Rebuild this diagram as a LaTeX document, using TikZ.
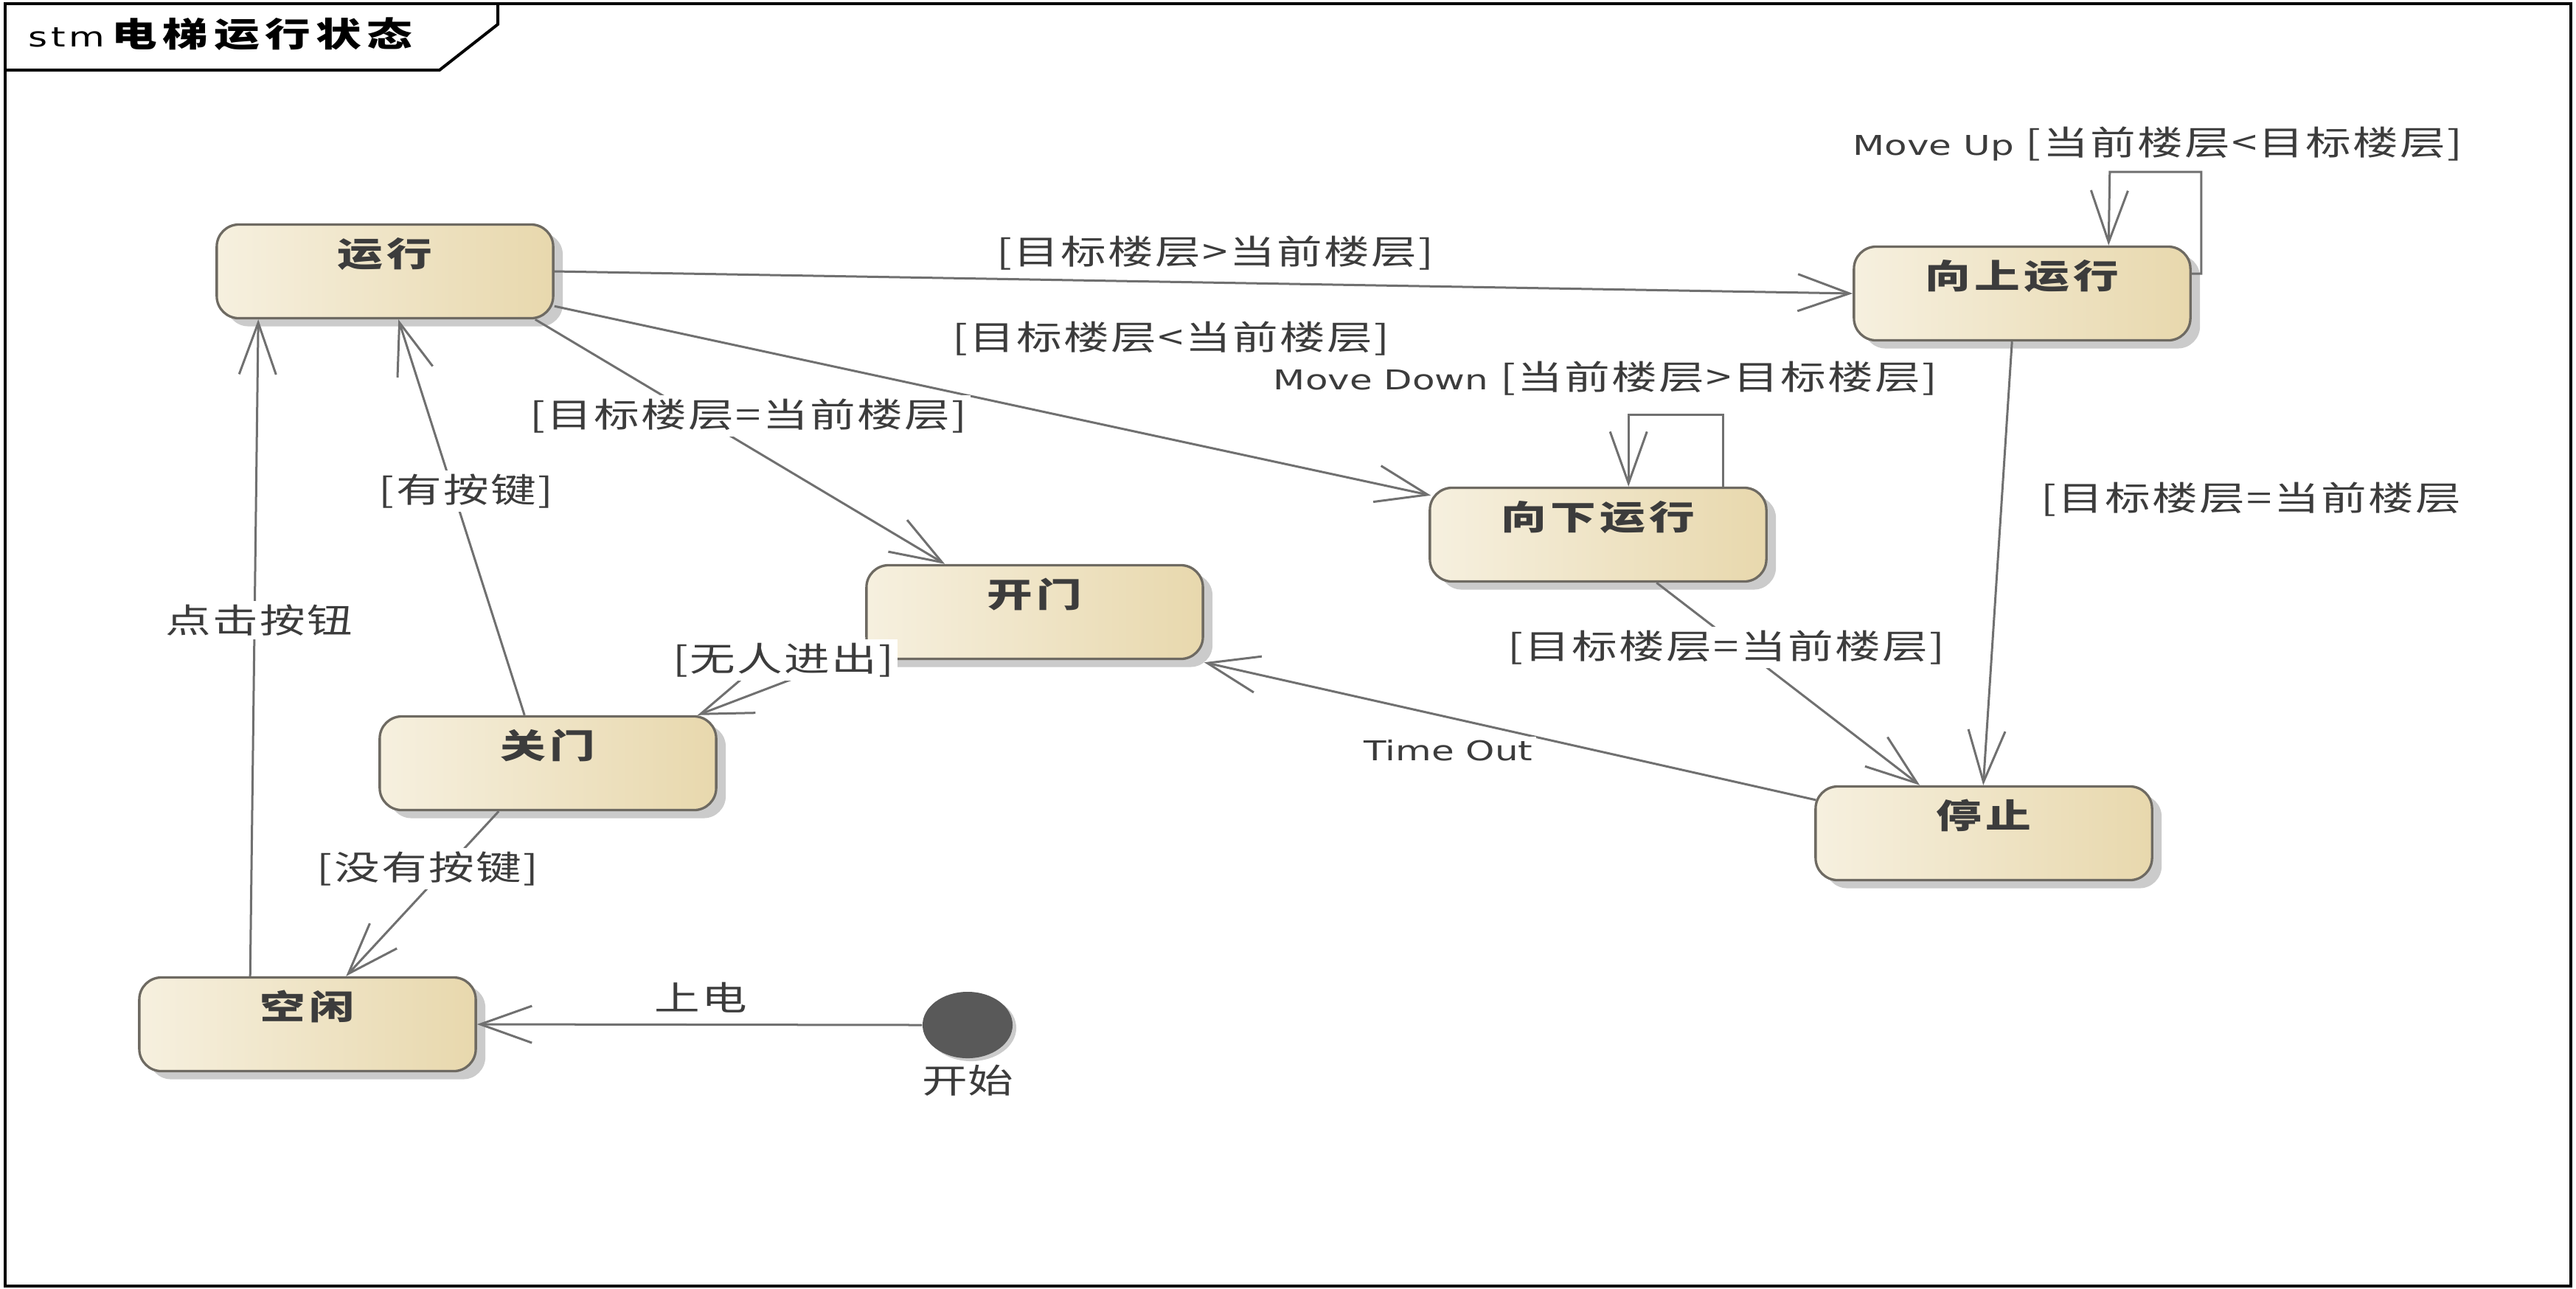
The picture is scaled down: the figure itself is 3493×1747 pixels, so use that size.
\documentclass[tikz,border=0pt]{standalone}
\usepackage{fontspec}
\usepackage{tikz}
\usetikzlibrary{arrows.meta,calc,shadows,shapes.geometric,positioning}
\setmainfont{Noto Sans CJK SC}[FakeStretch=1.35]
\newfontfamily\enfont{DejaVu Sans}[FakeStretch=1.35,Scale=0.81]
\newcommand{\entxt}[1]{{\enfont #1}}
\definecolor{stateL}{HTML}{F6F0DF}
\definecolor{stateR}{HTML}{E8D8AD}
\definecolor{stateline}{HTML}{6E6A62}
\definecolor{edge}{HTML}{707070}
\definecolor{txt}{HTML}{3C3C3C}
\definecolor{shade}{HTML}{CBCBCB}
\definecolor{startfill}{HTML}{595959}

\tikzset{
  state/.style={rectangle, rounded corners=0.3cm, draw=stateline, line width=0.033cm,
    left color=stateL, right color=stateR, minimum width=4.56cm, inner sep=0pt,
    text height=0.57cm, text depth=0.70cm, text=txt,
    font=\bfseries\addfontfeature{LetterSpace=12},
    drop shadow={shadow xshift=0.13cm, shadow yshift=-0.11cm, fill=shade, opacity=1}},
  initial/.style={ellipse, fill=startfill, minimum width=1.22cm, minimum height=0.9cm, inner sep=0pt,
    drop shadow={shadow xshift=0.05cm, shadow yshift=-0.04cm, fill=shade, opacity=1}},
  trans/.style={draw=edge, line width=0.03cm, -{Straight Barb[length=0.7cm, width=0.5cm]}},
  lbl/.style={fill=white, inner sep=0.05cm, text=txt, font=\addfontfeature{LetterSpace=5}},
}

\begin{document}
\fontsize{13pt}{16pt}\selectfont
\begin{tikzpicture}[x=0.01cm,y=-0.01cm]
\useasboundingbox (0,0) rectangle (3493,1747);
\draw[line width=0.04cm] (7,5) rectangle (3486,1744);
\draw[line width=0.04cm] (7,95) -- (596,95) -- (675,33) -- (675,5);
\node[anchor=west, inner sep=0pt] (titel) at (38,46) {{\enfont\addfontfeature{LetterSpace=12}stm}\hspace{0.1cm}{\bfseries\addfontfeature{LetterSpace=16}电梯运行状态}};

\node[state] (yunxing) at (522,368) {运行};
\node[state] (shang) at (2742,398) {向上运行};
\node[state] (xia) at (2167,725) {向下运行};
\node[state] (kaimen) at (1403,830) {开门};
\node[state] (guanmen) at (743,1035) {关门};
\node[state] (tingzhi) at (2690,1130) {停止};
\node[state] (kongxian) at (417,1389) {空闲};
\node[initial, label={[text=txt, inner sep=0pt, label distance=0.08cm]below:开始}] (chushi) at (1312,1390) {};

\draw[trans] (yunxing.east) -- (shang.west) node[lbl] at (1648,343) {[目标楼层>当前楼层]};
\draw[trans] ($(yunxing.south east)+(0,-18)$) -- ($(xia.north west)+(3,12)$) node[lbl] at (1588,459) {[目标楼层<当前楼层]};
\draw[trans] ($(yunxing.south east)+(-26,0)$) -- ($(kaimen.north west)+(108,0)$) node[lbl] at (1015,564) {[目标楼层=当前楼层]};
\draw[trans] ($(kongxian.north west)+(152,0)$) -- ($(yunxing.south west)+(58,0)$) node[lbl] at (351,841) {点击按钮};
\draw[trans] ($(guanmen.north west)+(198,0)$) -- ($(yunxing.south west)+(248,0)$) node[lbl] at (632,666) {[有按键]};
\draw[trans] ($(kaimen.south west)+(0,-12)$) -- ($(guanmen.north east)+(-27,0)$) node[lbl] at (1062,895) {[无人进出]};
\draw[trans] ($(guanmen.south west)+(163,0)$) -- ($(kongxian.north west)+(282,0)$) node[lbl] at (580,1178) {[没有按键]};
\draw[trans] (chushi.west) -- (kongxian.east) node[lbl] at (950,1353) {上电};
\draw[trans] ($(shang.east)+(0,-27)$) -- ++(13,0) |- ++(-124,-138) -- ($(shang.north west)+(347,0)$) node[lbl] at (2926,195) {\entxt{Move Up} [当前楼层<目标楼层]};
\draw[trans] ($(xia.north west)+(399,0)$) -- ++(0,-97) -| ($(xia.north west)+(271,0)$) node[lbl] at (2177,513) {\entxt{Move Down} [当前楼层>目标楼层]};
\draw[trans] ($(shang.south west)+(216,0)$) -- ($(tingzhi.north west)+(229,0)$) node[lbl] at (3052,677) {[目标楼层=当前楼层};
\draw[trans] ($(xia.south west)+(309,0)$) -- ($(tingzhi.north west)+(143,0)$) node[lbl] at (2341,878) {[目标楼层=当前楼层]};
\draw[trans] ($(tingzhi.north west)+(2,20)$) -- ($(kaimen.south east)+(0,3)$) node[lbl] at (1964,1018) {\entxt{Time Out}};
\end{tikzpicture}
\end{document}
